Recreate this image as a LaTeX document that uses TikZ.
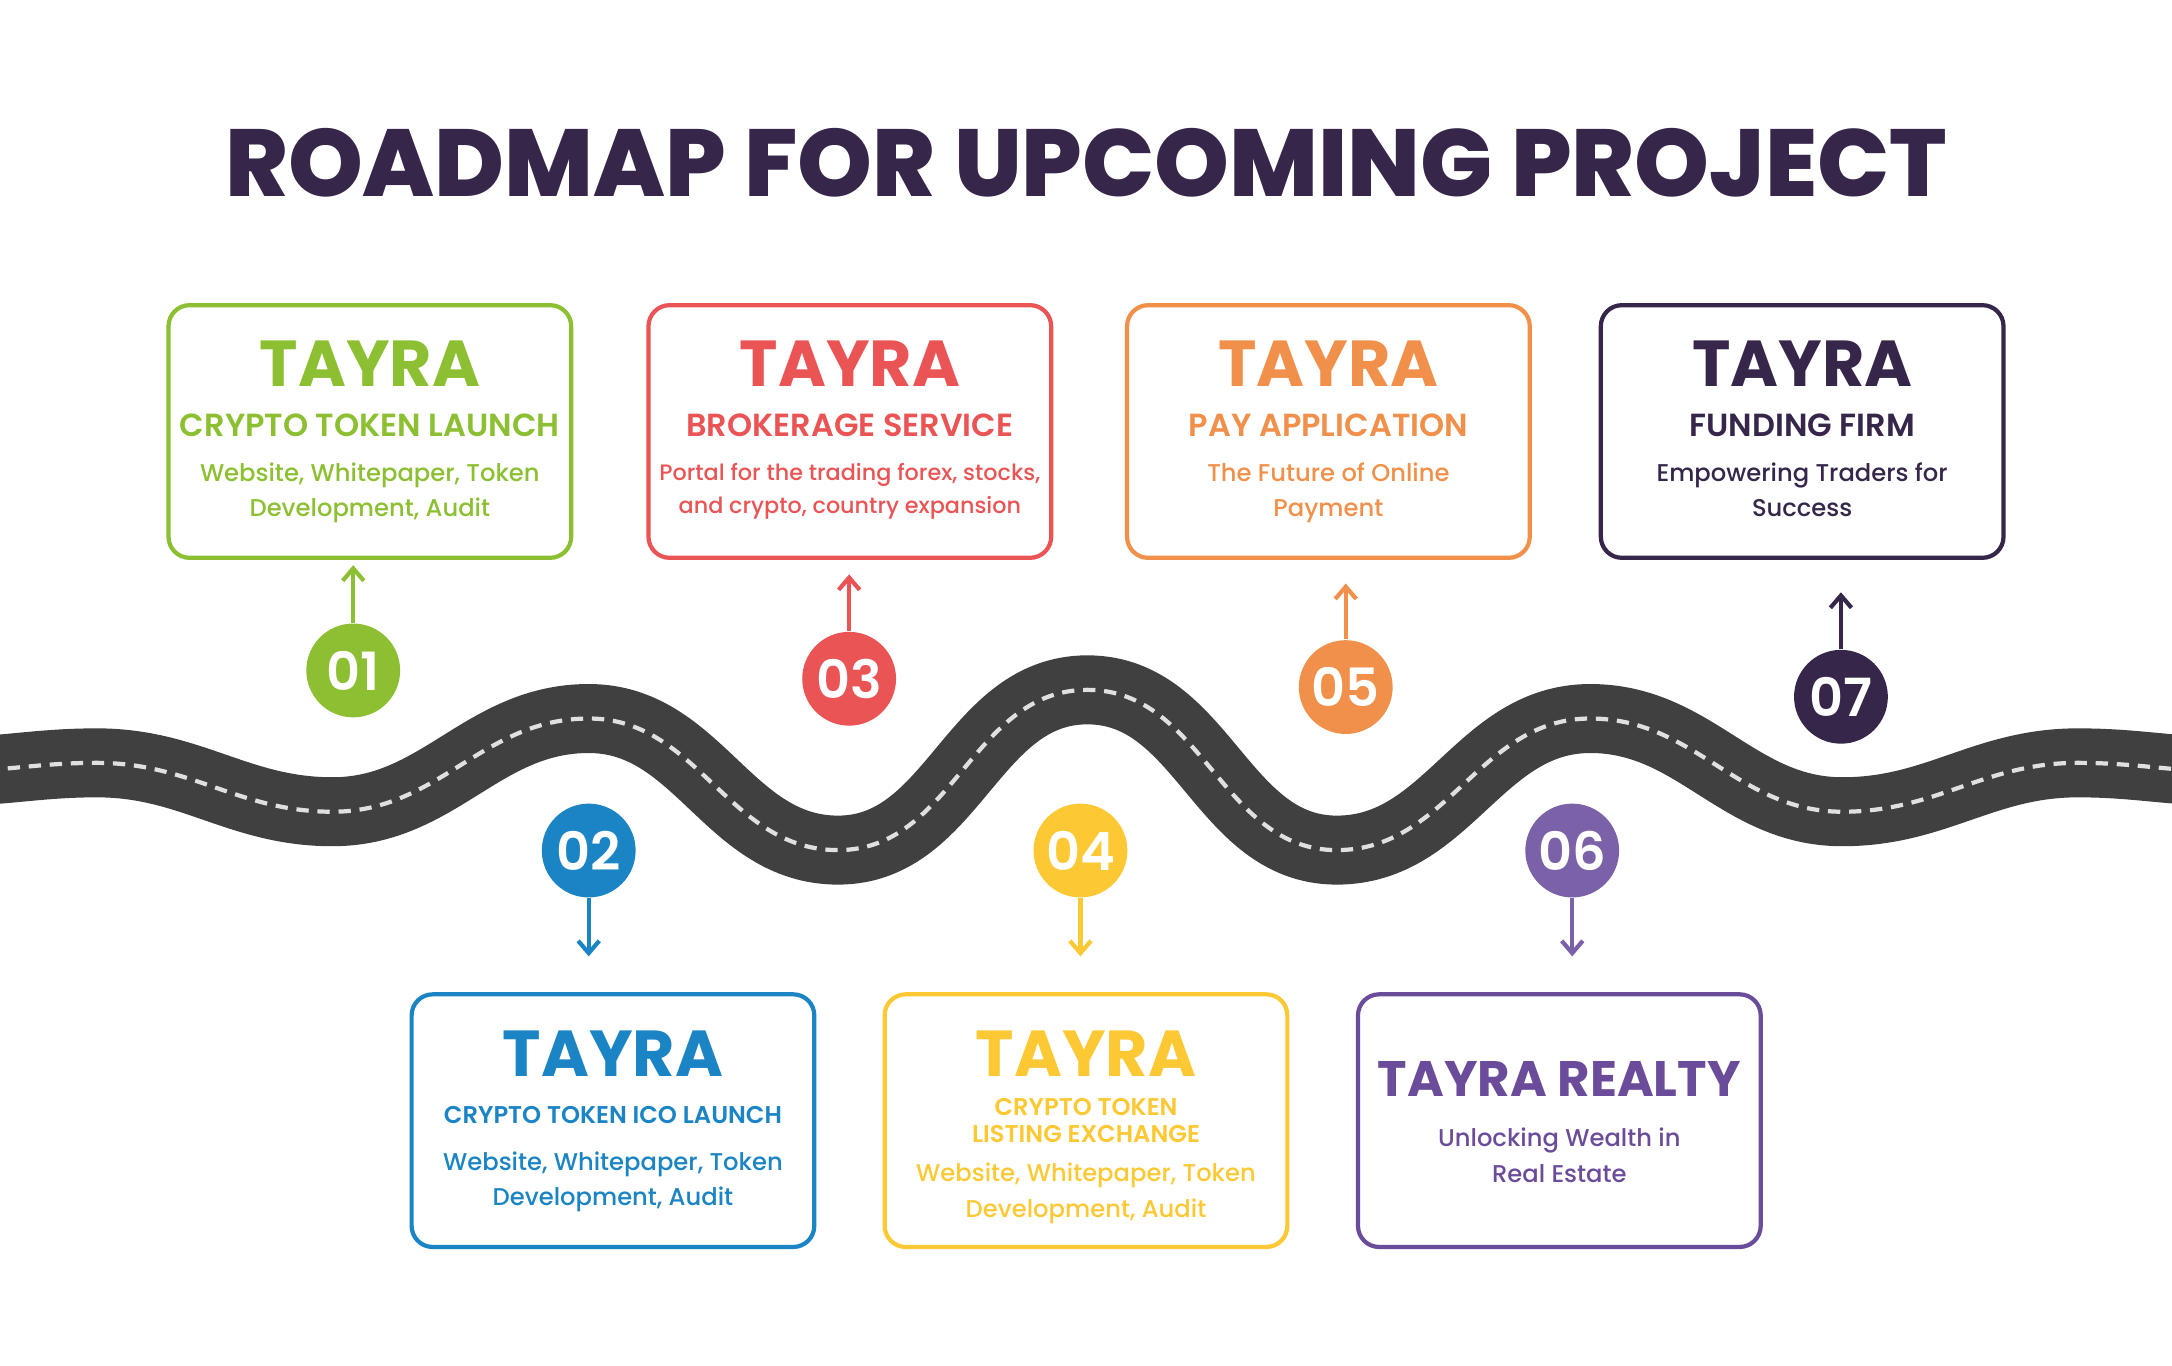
\documentclass[tikz,border=0pt]{standalone}
\usepackage{fontspec}
\setmainfont{Poppins}
\newfontface\semib{Poppins SemiBold}
\newfontface\medium{Poppins Medium}
\newfontface\heavy{Poppins ExtraBold}
\usetikzlibrary{arrows.meta, positioning}
\definecolor{tdark}{HTML}{35264A}
\definecolor{tgreen}{HTML}{8CC032}
\definecolor{tred}{HTML}{EA5455}
\definecolor{torange}{HTML}{F0904B}
\definecolor{tblue}{HTML}{1B84C4}
\definecolor{tyellow}{HTML}{FCC834}
\definecolor{tpurple}{HTML}{6B4C9A}
\definecolor{tlilac}{HTML}{7B62A8}
\definecolor{roadgray}{HTML}{404040}
\tikzset{
  card/.style={draw=#1, line width=1.2pt, rounded corners=6pt, minimum width=114.6pt, minimum height=71.9pt, inner sep=0pt},
  dot/.style={circle, fill=#1, text=white, minimum size=26.7pt, inner sep=0pt, font=\fontsize{15}{15}\selectfont\semib},
  uparr/.style={draw=#1, line width=1.2pt, -{Straight Barb[length=3.5pt,width=6pt]}},
  tayra/.style={anchor=base, text=#1, font=\fontsize{18.5}{20}\selectfont\bfseries},
  sub/.style={anchor=base, text=#1, font=\fontsize{9.1}{10}\selectfont\semib},
  smallsub/.style={anchor=base, text=#1, font=\fontsize{6.9}{8}\selectfont\semib},
  desc/.style={anchor=base, text=#1, font=\fontsize{6.9}{9}\selectfont\medium}
}
\begin{document}
\begin{tikzpicture}[x=0.01385cm, y=-0.01385cm]
\useasboundingbox (0,0) rectangle (1568,986);
% Title
\node[anchor=base, text=tdark, font=\fontsize{27.1}{30}\selectfont\heavy] (title) at (784,141.5) {ROADMAP FOR UPCOMING PROJECT};
% Road
\begin{scope}
\clip (0,0) rectangle (1568,986);
\draw[roadgray, line width=0.69cm, postaction={draw=white!88!black, line width=1.2pt, dash pattern=on 3.5pt off 2.5pt}]
  (-40,557) to[out=0,in=180] (70,550.7) to[out=0,in=180] (240,586) to[out=0,in=180] (425,518.7)
  to[out=0,in=180] (605,613.7) to[out=0,in=180] (785,498) to[out=0,in=180] (965,613.7)
  to[out=0,in=180] (1148,518.7) to[out=0,in=180] (1330,586) to[out=0,in=180] (1500,550.7)
  to[out=0,in=180] (1610,557);
\end{scope}
% Cards, top row
\node[card=tgreen] (box1) at (267,311.5) {};
\node[card=tred] (box3) at (613.5,311.5) {};
\node[card=torange] (box5) at (959,311.5) {};
\node[card=tdark] (box7) at (1301,311.5) {};
% Cards, bottom row
\node[card=tblue] (box2) at (442.5,809) {};
\node[card=tyellow] (box4) at (784,809) {};
\node[card=tpurple] (box6) at (1125.7,809) {};
% Milestones
\node[dot=tgreen] (c1) at (255,484) {01};
\node[dot=tblue] (c2) at (425,614) {02};
\node[dot=tred] (c3) at (613,490) {03};
\node[dot=tyellow] (c4) at (780,614) {04};
\node[dot=torange] (c5) at (971.5,496) {05};
\node[dot=tlilac] (c6) at (1135,614) {06};
\node[dot=tdark] (c7) at (1329,503) {07};
% Arrows
\draw[uparr=tgreen, shorten >=1.5pt] (c1) -- (c1 |- box1.south);
\draw[uparr=tred, shorten >=4.1pt] (c3) -- (c3 |- box3.south);
\draw[uparr=torange, shorten >=6.7pt] (c5) -- (c5 |- box5.south);
\draw[uparr=tdark, shorten >=9.2pt] (c7) -- (c7 |- box7.south);
\draw[uparr=tblue, shorten >=10.2pt] (c2) -- (c2 |- box2.north);
\draw[uparr=tyellow, shorten >=10.2pt] (c4) -- (c4 |- box4.north);
\draw[uparr=tlilac, shorten >=10.2pt] (c6) -- (c6 |- box6.north);
% Texts 01
\node[tayra=tgreen] (t1) at (267,279) {TAYRA};
\node[sub=tgreen] (s1) at (267,315.3) {CRYPTO TOKEN LAUNCH};
\node[desc=tgreen] (d1a) at (267,347.3) {Website, Whitepaper, Token};
\node[desc=tgreen] (d1b) at (267,373) {Development, Audit};
% Texts 03
\node[tayra=tred] (t3) at (613.5,279) {TAYRA};
\node[sub=tred] (s3) at (613.5,315.3) {BROKERAGE SERVICE};
\node[desc=tred, font=\fontsize{6.35}{8}\selectfont\medium] (d3a) at (613.5,346.6) {Portal for the trading forex, stocks,};
\node[desc=tred, font=\fontsize{6.35}{8}\selectfont\medium] (d3b) at (613.5,370.6) {and crypto, country expansion};
% Texts 05
\node[tayra=torange] (t5) at (959,279) {TAYRA};
\node[sub=torange] (s5) at (959,315.3) {PAY APPLICATION};
\node[desc=torange] (d5a) at (959,347.3) {The Future of Online};
\node[desc=torange] (d5b) at (959,373) {Payment};
% Texts 07
\node[tayra=tdark] (t7) at (1301,279) {TAYRA};
\node[sub=tdark] (s7) at (1301,315.3) {FUNDING FIRM};
\node[desc=tdark] (d7a) at (1301,347.3) {Empowering Traders for};
\node[desc=tdark] (d7b) at (1301,373) {Success};
% Texts 02
\node[tayra=tblue] (t2) at (442.5,777.4) {TAYRA};
\node[smallsub=tblue] (s2) at (442.5,811) {CRYPTO TOKEN ICO LAUNCH};
\node[desc=tblue] (d2a) at (442.5,844.8) {Website, Whitepaper, Token};
\node[desc=tblue] (d2b) at (442.5,870.5) {Development, Audit};
% Texts 04
\node[tayra=tyellow] (t4) at (784,777.4) {TAYRA};
\node[smallsub=tyellow] (s4a) at (784,805) {CRYPTO TOKEN};
\node[smallsub=tyellow] (s4b) at (784,825) {LISTING EXCHANGE};
\node[desc=tyellow] (d4a) at (784,853.2) {Website, Whitepaper, Token};
\node[desc=tyellow] (d4b) at (784,878.9) {Development, Audit};
% Texts 06
\node[tayra=tpurple, font=\fontsize{14.2}{16}\selectfont\bfseries] (t6) at (1125.7,791.8) {TAYRA REALTY};
\node[desc=tpurple] (d6a) at (1125.7,828) {Unlocking Wealth in};
\node[desc=tpurple] (d6b) at (1125.7,853.7) {Real Estate};
\end{tikzpicture}
\end{document}
